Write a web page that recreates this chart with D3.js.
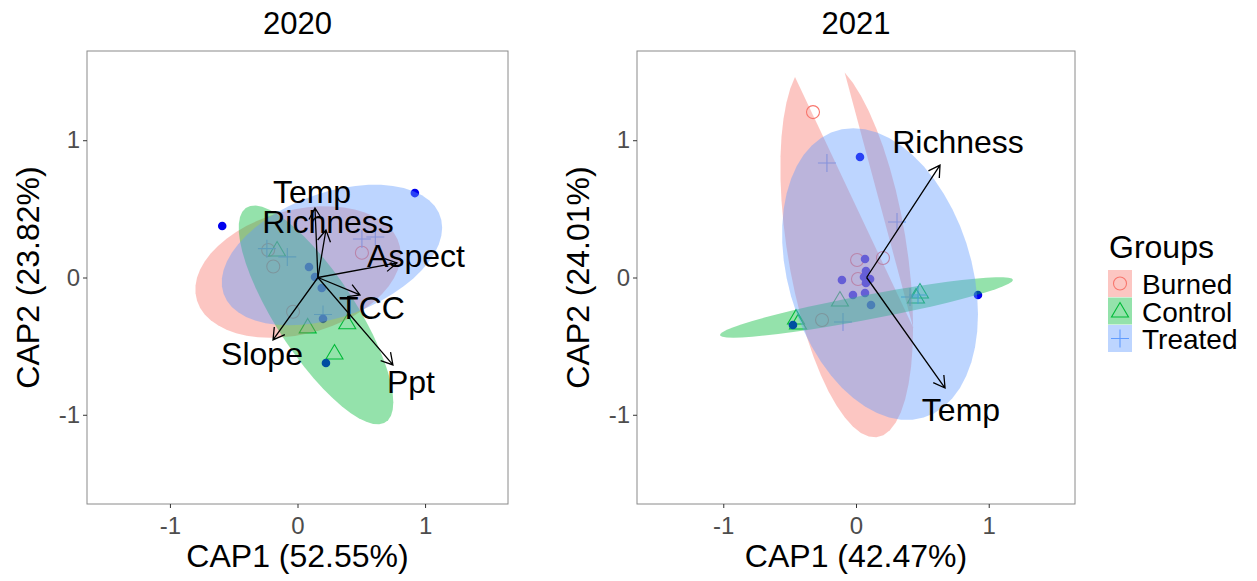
<!DOCTYPE html>
<html>
<head>
<meta charset="utf-8">
<script src="https://cdn.jsdelivr.net/npm/d3@7"></script>
<style>
  body { margin: 0; background: #fff; }
  text { font-family: "Liberation Sans", Arial, sans-serif; }
</style>
</head>
<body>
<div class="canva"></div>
<script>
// ---- data ----
const groups = ["Burned", "Control", "Treated"]
const groupColors = ["#F8766D", "#00BA38", "#619CFF"]
const years = ["2020", "2021"]
const xTitles = ["CAP1 (52.55%)", "CAP1 (42.47%)"]
const yTitles = ["CAP2 (23.82%)", "CAP2 (24.01%)"]
const tickValues = [-1, 0, 1]
const limits = [-1.5, 1.5]

// 2020 sample scores [CAP1, CAP2]
const burned20 = [[-0.23, 0.20], [-0.19, 0.08], [0.505, 0.18], [-0.035, -0.25]]
const control20 = [[-0.16, 0.20], [0.08, -0.36], [0.39, -0.33], [0.29, -0.55]]
const treated20 = [[-0.24, 0.21], [-0.08, 0.15], [0.505, 0.28], [0.61, 0.295], [0.20, -0.27]]
const dots20 = [[-0.59, 0.375], [0.92, 0.615], [0.09, 0.076], [0.137, 0.004], [0.19, -0.076], [0.20, -0.30], [0.223, -0.623]]

// 2021 sample scores
const burned21 = [[-0.324, 1.205], [0.008, 0.127], [0.203, 0.142], [0.015, -0.011], [-0.256, -0.31]]
const control21 = [[-0.121, -0.164], [-0.437, -0.331], [-0.452, -0.295], [0.452, -0.142], [0.482, -0.106]]
const treated21 = [[-0.219, 0.834], [0.309, 0.404], [-0.098, -0.324], [0.407, -0.142], [0.467, -0.127]]
const dots21 = [[0.03, 0.878], [0.919, -0.128], [-0.475, -0.346], [0.068, 0.135], [0.075, 0.047], [0.06, 0.004],
  [0.106, -0.011], [0.075, -0.04], [-0.106, -0.018], [-0.023, -0.127], [0.068, -0.113], [0.113, -0.2]]

// ellipses per group: [centre x, centre y, sd-x, sd-y, correlation]
const ellipses20 = [[0.004, 0.04, 0.805, 0.479, 0.266], [0.145, -0.273, 0.606, 0.797, -0.798], [0.27, 0.164, 0.864, 0.512, 0.389]]
const ellipses21 = [[-0.07, 0.22, 0.5, 1.385, -0.42], [0.079, -0.218, 1.104, 0.22, 0.91], [0.181, 0.025, 0.738, 1.063, -0.275]]

// environmental vectors
const origin20 = [0.16, 0]
const envNames20 = ["Temp", "Richness", "Aspect", "TCC", "Ppt", "Slope"]
const envTips20 = [[0.137, 0.506], [0.223, 0.346], [0.78, 0.106], [0.49, -0.127], [0.748, -0.637], [-0.192, -0.455]]
const envLabels20 = [[0.114, 0.63], [0.239, 0.41], [0.929, 0.157], [0.584, -0.222], [0.889, -0.761], [-0.278, -0.55]]

const origin21 = [0.08, 0]
const envNames21 = ["Richness", "Temp"]
const envTips21 = [[0.633, 0.819], [0.671, -0.805]]
const envLabels21 = [[0.769, 0.994], [0.791, -0.965]]

const panels = [
  {pts: [burned20, control20, treated20], dots: dots20, ell: ellipses20, origin: origin20, names: envNames20, tips: envTips20, labels: envLabels20},
  {pts: [burned21, control21, treated21], dots: dots21, ell: ellipses21, origin: origin21, names: envNames21, tips: envTips21, labels: envLabels21}
]

// ---- layout ----
const W = 1257, H = 581
const panelLeft = [87, 637], panelWidth = [421, 438]
const panelTop = 51, panelHeight = 453

const svg = d3.select(".canva").append("svg").attr("width", W).attr("height", H)

const span = limits[1] - limits[0]
const domain = [limits[0] - 0.05 * span, limits[1] + 0.05 * span]

function shapePath(k) {
  if (k === 0) return d3.arc()({innerRadius: 0, outerRadius: 6.5, startAngle: 0, endAngle: 2 * Math.PI})
  if (k === 1) return "M0,-8.5L8.5,6L-8.5,6Z"
  return "M-9,0H9M0,-9V9"
}

// stat_ellipse-like outline, split where vertices fall outside the limits
function ellipsePieces(e) {
  const [cx, cy, sx, sy, rho] = e
  const r22 = Math.sqrt(1 - rho * rho)
  const pieces = []
  let cur = []
  for (let i = 0; i <= 51; i++) {
    const t = 2 * Math.PI * i / 51
    const px = cx + sx * Math.cos(t)
    const py = cy + sy * (rho * Math.cos(t) + r22 * Math.sin(t))
    if (px < limits[0] || px > limits[1] || py < limits[0] || py > limits[1]) {
      if (cur.length) pieces.push(cur)
      cur = []
    } else cur.push([px, py])
  }
  if (cur.length) pieces.push(cur)
  return pieces
}

panels.forEach((p, i) => {
  const x = d3.scaleLinear().domain(domain).range([panelLeft[i], panelLeft[i] + panelWidth[i]])
  const y = d3.scaleLinear().domain(domain).range([panelTop + panelHeight, panelTop])
  const g = svg.append("g")

  // clip to panel
  const clipId = "clip" + i
  svg.append("clipPath").attr("id", clipId).append("rect")
    .attr("x", panelLeft[i]).attr("y", panelTop).attr("width", panelWidth[i]).attr("height", panelHeight)
  const plot = g.append("g").attr("clip-path", `url(#${clipId})`)

  // group points
  p.pts.forEach((arr, k) => {
    plot.selectAll(null).data(arr).enter().append("path")
      .attr("d", shapePath(k))
      .attr("transform", d => `translate(${x(d[0])},${y(d[1])})`)
      .attr("fill", "none").attr("stroke", groupColors[k]).attr("stroke-width", 1.1)
  })

  // blue site dots
  plot.selectAll(null).data(p.dots).enter().append("circle")
    .attr("cx", d => x(d[0])).attr("cy", d => y(d[1])).attr("r", 4.3)
    .attr("fill", "#0000ee")

  // ellipses
  const line = d3.line().x(d => x(d[0])).y(d => y(d[1]))
  p.ell.forEach((e, k) => {
    ellipsePieces(e).forEach(piece => {
      plot.append("path").attr("d", line(piece) + "Z")
        .attr("fill", groupColors[k]).attr("fill-opacity", 0.42).attr("stroke", "none")
    })
  })

  // vectors
  p.tips.forEach((tip, j) => {
    const x0 = x(p.origin[0]), y0 = y(p.origin[1]), x1 = x(tip[0]), y1 = y(tip[1])
    const ang = Math.atan2(y1 - y0, x1 - x0)
    const L = 13, a = Math.PI / 6
    plot.append("path")
      .attr("d", `M${x0},${y0}L${x1},${y1}` +
        `M${x1 - L * Math.cos(ang - a)},${y1 - L * Math.sin(ang - a)}L${x1},${y1}` +
        `L${x1 - L * Math.cos(ang + a)},${y1 - L * Math.sin(ang + a)}`)
      .attr("fill", "none").attr("stroke", "#000").attr("stroke-width", 1.3)
  })
  plot.selectAll(null).data(p.labels).enter().append("text")
    .attr("x", d => x(d[0])).attr("y", d => y(d[1])).attr("dy", "0.36em")
    .attr("text-anchor", "middle").attr("font-size", 32).attr("fill", "#000")
    .text((d, j) => p.names[j])

  // panel border
  g.append("rect").attr("x", panelLeft[i]).attr("y", panelTop)
    .attr("width", panelWidth[i]).attr("height", panelHeight)
    .attr("fill", "none").attr("stroke", "#8a8a8a").attr("stroke-width", 1)

  // axes
  const xa = g.append("g").attr("transform", `translate(0,${panelTop + panelHeight})`)
    .call(d3.axisBottom(x).tickValues(tickValues).tickSize(4).tickPadding(4).tickFormat(d => String(d)))
  const ya = g.append("g").attr("transform", `translate(${panelLeft[i]},0)`)
    .call(d3.axisLeft(y).tickValues(tickValues).tickSize(4).tickPadding(3).tickFormat(d => String(d)))
  ;[xa, ya].forEach(ax => {
    ax.select(".domain").remove()
    ax.selectAll(".tick line").attr("stroke", "#333")
    ax.selectAll(".tick text").attr("fill", "#4d4d4d").attr("font-size", 24)
      .attr("font-family", "Liberation Sans, Arial, sans-serif")
  })
  xa.selectAll(".tick text").attr("dy", "0.93em")

  const cxp = panelLeft[i] + panelWidth[i] / 2
  g.append("text").attr("x", cxp).attr("y", 34).attr("text-anchor", "middle")
    .attr("font-size", 31).text(years[i])
  g.append("text").attr("x", cxp).attr("y", 567).attr("text-anchor", "middle")
    .attr("font-size", 32).text(xTitles[i])
  g.append("text").attr("transform", `translate(${panelLeft[i] - 48},${panelTop + panelHeight / 2}) rotate(-90)`)
    .attr("text-anchor", "middle").attr("font-size", 32).text(yTitles[i])
})

// legend
const leg = svg.append("g")
leg.append("text").attr("x", 1109).attr("y", 258).attr("font-size", 32).text("Groups")
groups.forEach((name, k) => {
  const ky = 270 + k * 27.5
  leg.append("rect").attr("x", 1108).attr("y", ky).attr("width", 24).attr("height", 27)
    .attr("fill", groupColors[k]).attr("fill-opacity", 0.42)
  leg.append("path").attr("d", shapePath(k)).attr("transform", `translate(1120,${ky + 13.5})`)
    .attr("fill", "none").attr("stroke", groupColors[k]).attr("stroke-width", 1.1)
  leg.append("text").attr("x", 1142).attr("y", ky + 24).attr("font-size", 28).text(name)
})
</script>
</body>
</html>
